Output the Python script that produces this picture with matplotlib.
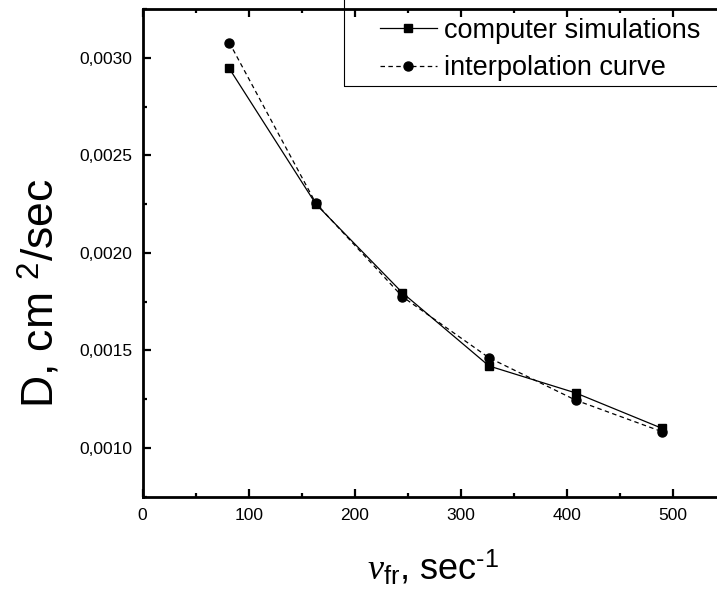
import numpy as np
import matplotlib
matplotlib.use('Agg')
import matplotlib.pyplot as plt
from matplotlib.ticker import MultipleLocator, FuncFormatter
from matplotlib.patches import Rectangle

plt.rcParams['font.family'] = ['Liberation Sans', 'DejaVu Sans']
plt.rcParams['mathtext.fontset'] = 'custom'
plt.rcParams['mathtext.rm'] = 'Liberation Sans'
plt.rcParams['mathtext.it'] = 'Liberation Serif:italic'

# frequency (sec^-1) and diffusion coefficient (cm^2/sec)
nu_fr = [81.7, 163.4, 245.1, 326.8, 408.5, 490.2]
D_sim = [0.002945, 0.002250, 0.001795, 0.001420, 0.001282, 0.001100]
D_interp = [0.003078, 0.002254, 0.001775, 0.001462, 0.001245, 0.001083]

fig = plt.figure(figsize=(7.17, 5.97), dpi=100)
ax = fig.add_axes([0.199, 0.168, 0.813, 0.817])

ax.plot(nu_fr, D_sim, color="black", linestyle="-", linewidth=0.9,
        marker="s", markersize=6, label="computer simulations")
ax.plot(nu_fr, D_interp, color="black", linestyle=(0, (3.6, 2.7)), linewidth=0.9,
        marker="o", markersize=6.5, label="interpolation curve")

ax.set_xlim(0, 550)
ax.set_ylim(0.00075, 0.00325)
ax.xaxis.set_major_locator(MultipleLocator(100))
ax.xaxis.set_minor_locator(MultipleLocator(50))
ax.yaxis.set_major_locator(MultipleLocator(0.0005))
ax.yaxis.set_minor_locator(MultipleLocator(0.00025))
ax.yaxis.set_major_formatter(FuncFormatter(lambda v, p: f"{v:.4f}".replace(".", ",")))

for s in ax.spines.values():
    s.set_linewidth(2)
ax.tick_params(which="both", direction="in", top=True, right=True, width=1.6)
ax.tick_params(which="major", length=5.5)
ax.tick_params(which="minor", length=3)
ax.tick_params(axis="y", which="major", labelsize=12.5, pad=7.5)
ax.tick_params(axis="x", which="major", labelsize=12.5, pad=8)

# legend box (Origin style, clipped at right edge)
leg = ax.legend(loc="upper left", bbox_to_anchor=(0.4, 0.99), frameon=False,
                fontsize=19.5, handlelength=2.1, handletextpad=0.25,
                borderpad=0.15, labelspacing=0.42, borderaxespad=0)
ax.add_patch(Rectangle((0.345, 0.842), 0.7, 0.2, transform=ax.transAxes,
                       fill=False, edgecolor="black", linewidth=0.8,
                       clip_on=False))

fig.text(40 / 717, 1 - 293 / 597, r"D, cm $^{2}$/sec", rotation=90,
         ha="center", va="center", fontsize=32)
fig.text(433 / 717, 1 - 580 / 597, r"$\nu_{\mathrm{fr}}$, sec$^{\text{-1}}$",
         ha="center", va="baseline", fontsize=26)

plt.savefig("out.png", dpi=100, facecolor="white")
plt.close()
